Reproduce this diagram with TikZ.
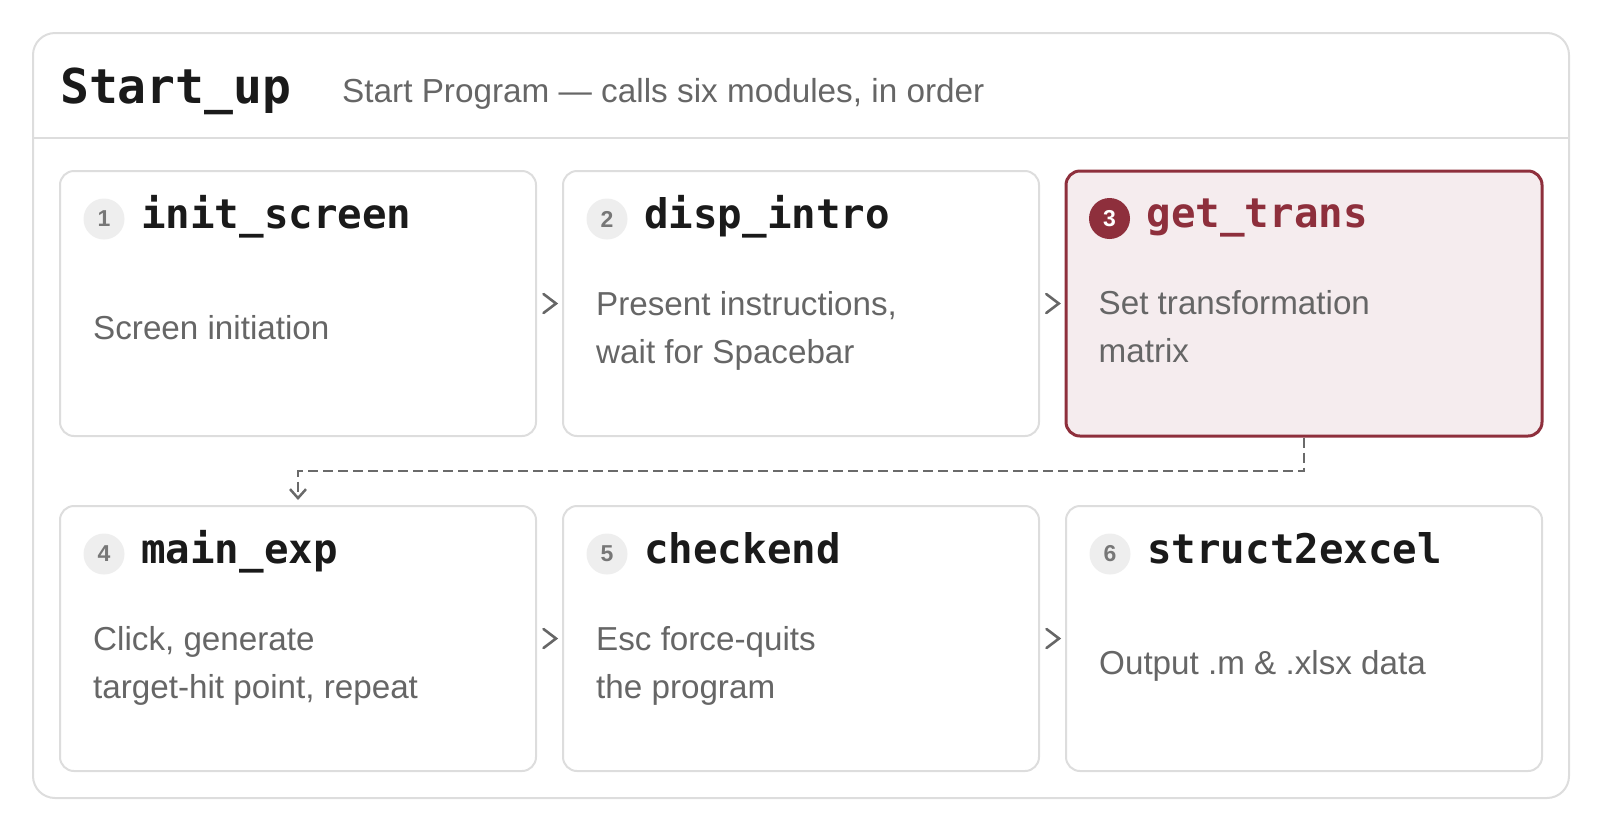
\documentclass[tikz,border=0pt]{standalone}
\usepackage{fontspec}
\setmainfont{Liberation Sans}
\setmonofont{DejaVu Sans Mono}
\usetikzlibrary{arrows.meta,calc}
\definecolor{bordergray}{HTML}{DDDDDD}
\definecolor{txtgray}{HTML}{666666}
\definecolor{numgray}{HTML}{777777}
\definecolor{circfill}{HTML}{EEEEEE}
\definecolor{hired}{HTML}{8E2F3C}
\definecolor{hifill}{HTML}{F5ECEE}
\definecolor{ink}{HTML}{1A1A1A}
\definecolor{connc}{HTML}{6A6A6A}
\begin{document}
\begin{tikzpicture}[x=1pt,y=-1pt,
  frame/.style={draw=bordergray, line width=2pt, rounded corners=22pt, minimum width=1536pt, minimum height=765pt, inner sep=0pt},
  divline/.style={draw=bordergray, line width=2pt},
  modbox/.style={draw=bordergray, fill=white, line width=2pt, rounded corners=14pt, minimum width=476pt, minimum height=265pt, inner sep=0pt},
  hibox/.style={modbox, draw=hired, fill=hifill, line width=3pt},
  num/.style={circle, fill=circfill, minimum size=41pt, inner sep=0pt, text=numgray, font=\fontsize{23}{23}\selectfont\bfseries},
  hinum/.style={num, fill=hired, text=white},
  modtitle/.style={anchor=base west, inner sep=0pt, text=ink, font=\fontsize{40.8}{41}\selectfont\ttfamily\bfseries},
  himodtitle/.style={modtitle, text=hired},
  desc/.style={anchor=base west, inner sep=0pt, text=txtgray, align=left, font=\fontsize{33.2}{48}\selectfont},
  chev/.style={draw=txtgray, line width=2.6pt, line cap=round, line join=miter},
  conn/.style={draw=connc, line width=2.6pt, dash pattern=on 10pt off 5pt, -{Straight Barb[length=9pt, width=16pt, line width=2.5pt]}, shorten >=5pt}
]
\useasboundingbox (0,0) rectangle (1602,831);
\node[frame] (frame) at (801,415.5) {};
\coordinate (divy) at (0,138);
\draw[divline] (frame.west |- divy) -- (frame.east |- divy);
\node[anchor=base west, inner sep=0pt, text=ink, font=\fontsize{48}{48}\selectfont\ttfamily\bfseries] (title) at (60,103) {Start\_up};
\node[anchor=base west, inner sep=0pt, text=txtgray, font=\fontsize{33.3}{34}\selectfont] (subtitle) at (342,102) {Start Program — calls six modules, in order};

% row 1
\node[modbox] (b1) at (298,303.5) {};
\node[modbox] (b2) at (801,303.5) {};
\node[hibox]  (b3) at (1304,303.5) {};
% row 2
\node[modbox] (b4) at (298,638.5) {};
\node[modbox] (b5) at (801,638.5) {};
\node[modbox] (b6) at (1304,638.5) {};

% numbers
\node[num]   (n1) at ($(b1.north west)+(45,49)$) {1};
\node[num]   (n2) at ($(b2.north west)+(45,49)$) {2};
\node[hinum] (n3) at ($(b3.north west)+(45,49)$) {3};
\node[num]   (n4) at ($(b4.north west)+(45,49)$) {4};
\node[num]   (n5) at ($(b5.north west)+(45,49)$) {5};
\node[num]   (n6) at ($(b6.north west)+(45,49)$) {6};

% titles
\node[modtitle]   (t1) at ($(b1.north west)+(82,58)$) {init\_screen};
\node[modtitle]   (t2) at ($(b2.north west)+(82,58)$) {disp\_intro};
\node[himodtitle] (t3) at ($(b3.north west)+(82,58)$) {get\_trans};
\node[modtitle]   (t4) at ($(b4.north west)+(82,58)$) {main\_exp};
\node[modtitle]   (t5) at ($(b5.north west)+(82,58)$) {checkend};
\node[modtitle]   (t6) at ($(b6.north west)+(82,58)$) {struct2excel};

% descriptions (base anchor = last line)
\node[desc] (d1) at ($(b1.north west)+(34,169)$) {Screen initiation};
\node[desc] (d2) at ($(b2.north west)+(34,193)$) {Present instructions,\\wait for Spacebar};
\node[desc] (d3) at ($(b3.north west)+(34,193)$) {Set transformation\\matrix};
\node[desc] (d4) at ($(b4.north west)+(34,193)$) {Click, generate\\target-hit point, repeat};
\node[desc] (d5) at ($(b5.north west)+(34,193)$) {Esc force-quits\\the program};
\node[desc] (d6) at ($(b6.north west)+(34,169)$) {Output .m \& .xlsx data};

% chevrons between boxes
\coordinate (c12) at ($(b1.east)!0.5!(b2.west)$);
\coordinate (c23) at ($(b2.east)!0.5!(b3.west)$);
\coordinate (c45) at ($(b4.east)!0.5!(b5.west)$);
\coordinate (c56) at ($(b5.east)!0.5!(b6.west)$);
\foreach \c in {c12,c23,c45,c56}{
  \draw[chev] ($(\c)+(-6,-9.5)$) -- ($(\c)+(6.5,0)$) -- ($(\c)+(-6,9.5)$);
}

% dashed connector from get_trans to main_exp
\coordinate (bend) at (0,471);
\draw[conn] (b3.south) -- (b3.south |- bend) -| (b4.north);
\end{tikzpicture}
\end{document}
